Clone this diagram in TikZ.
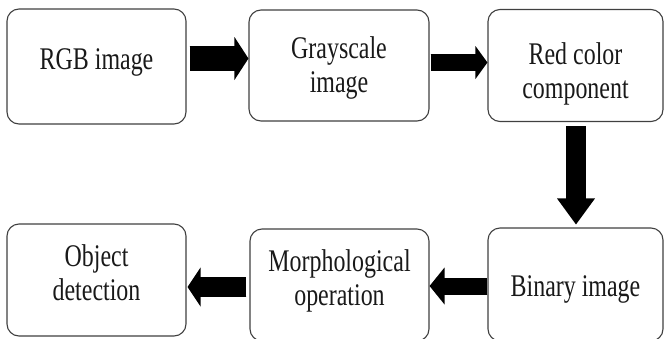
\documentclass[tikz,border=0pt]{standalone}
\usepackage{fontspec}
\setmainfont{Liberation Serif}[FakeStretch=0.76]
\usetikzlibrary{arrows.meta}

\begin{document}
\begin{tikzpicture}[x=1pt,y=-1pt,
  stage/.style={draw=black!75, line width=1.1pt, rounded corners=12pt, inner sep=0pt, fill=white},
  caption/.style={anchor=north, inner sep=0pt, align=center,
    font=\fontsize{31.5}{34}\selectfont, text=black!90},
  flow/.style={draw=black, line width=#1}
]
\useasboundingbox (0,0) rectangle (665,338);

% processing stages
\node[stage, minimum width=179pt, minimum height=115pt] (rgb)   at (96.5,66.5) {};
\node[stage, minimum width=180pt, minimum height=111pt] (gray)  at (339,65.5)  {};
\node[stage, minimum width=175pt, minimum height=112pt] (red)   at (575.5,65.5) {};
\node[stage, minimum width=179pt, minimum height=112pt] (obj)   at (96.5,280)  {};
\node[stage, minimum width=179pt, minimum height=112pt] (morph) at (339.5,285) {};
\node[stage, minimum width=175pt, minimum height=113pt] (bin)   at (575.5,284.5) {};

% stage captions
\node[caption] (rgbt)   at (96.5,48)   {RGB image};
\node[caption] (grayt)  at (339,36)    {Grayscale\\image};
\node[caption] (redt)   at (575.5,42)  {Red color\\component};
\node[caption] (objt)   at (96.5,244)  {Object\\detection};
\node[caption] (morpht) at (339.5,249) {Morphological\\operation};
\node[caption] (bint)   at (575.5,275) {Binary image};

% block arrows between the stages: a head plus a shaft that runs into it
\coordinate (a1s) at ([xshift=3pt,yshift=8pt]rgb.east);
\draw[flow=25pt, -{Triangle[length=14pt,width=43pt,line width=0pt]}] (a1s) -- (a1s -| gray.west);
\draw[flow=25pt, shorten >=11pt] (a1s) -- (a1s -| gray.west);

\coordinate (a2s) at ([xshift=1pt,yshift=3pt]gray.east);
\draw[flow=17pt, -{Triangle[length=12pt,width=33pt,line width=0pt]}] (a2s) -- (a2s -| red.west);
\draw[flow=17pt, shorten >=9pt] (a2s) -- (a2s -| red.west);

\coordinate (a3s) at ([xshift=0.5pt,yshift=-4pt]red.south);
\coordinate (a3e) at ([yshift=3pt]bin.north);
\draw[flow=20pt, -{Triangle[length=26pt,width=38pt,line width=0pt]}] (a3s) -- (a3s |- a3e);
\draw[flow=20pt, shorten >=23pt] (a3s) -- (a3s |- a3e);

\coordinate (a4s) at ([yshift=-1.5pt]bin.west);
\draw[flow=17pt, -{Triangle[length=15pt,width=37pt,line width=0pt]}] (a4s) -- (a4s -| morph.east);
\draw[flow=17pt, shorten >=12pt] (a4s) -- (a4s -| morph.east);

\coordinate (a5s) at ([xshift=-3pt,yshift=-2pt]morph.west);
\coordinate (a5e) at ([xshift=1pt]obj.east);
\draw[flow=20pt, -{Triangle[length=13pt,width=39pt,line width=0pt]}] (a5s) -- (a5s -| a5e);
\draw[flow=20pt, shorten >=10pt] (a5s) -- (a5s -| a5e);
\end{tikzpicture}
\end{document}
